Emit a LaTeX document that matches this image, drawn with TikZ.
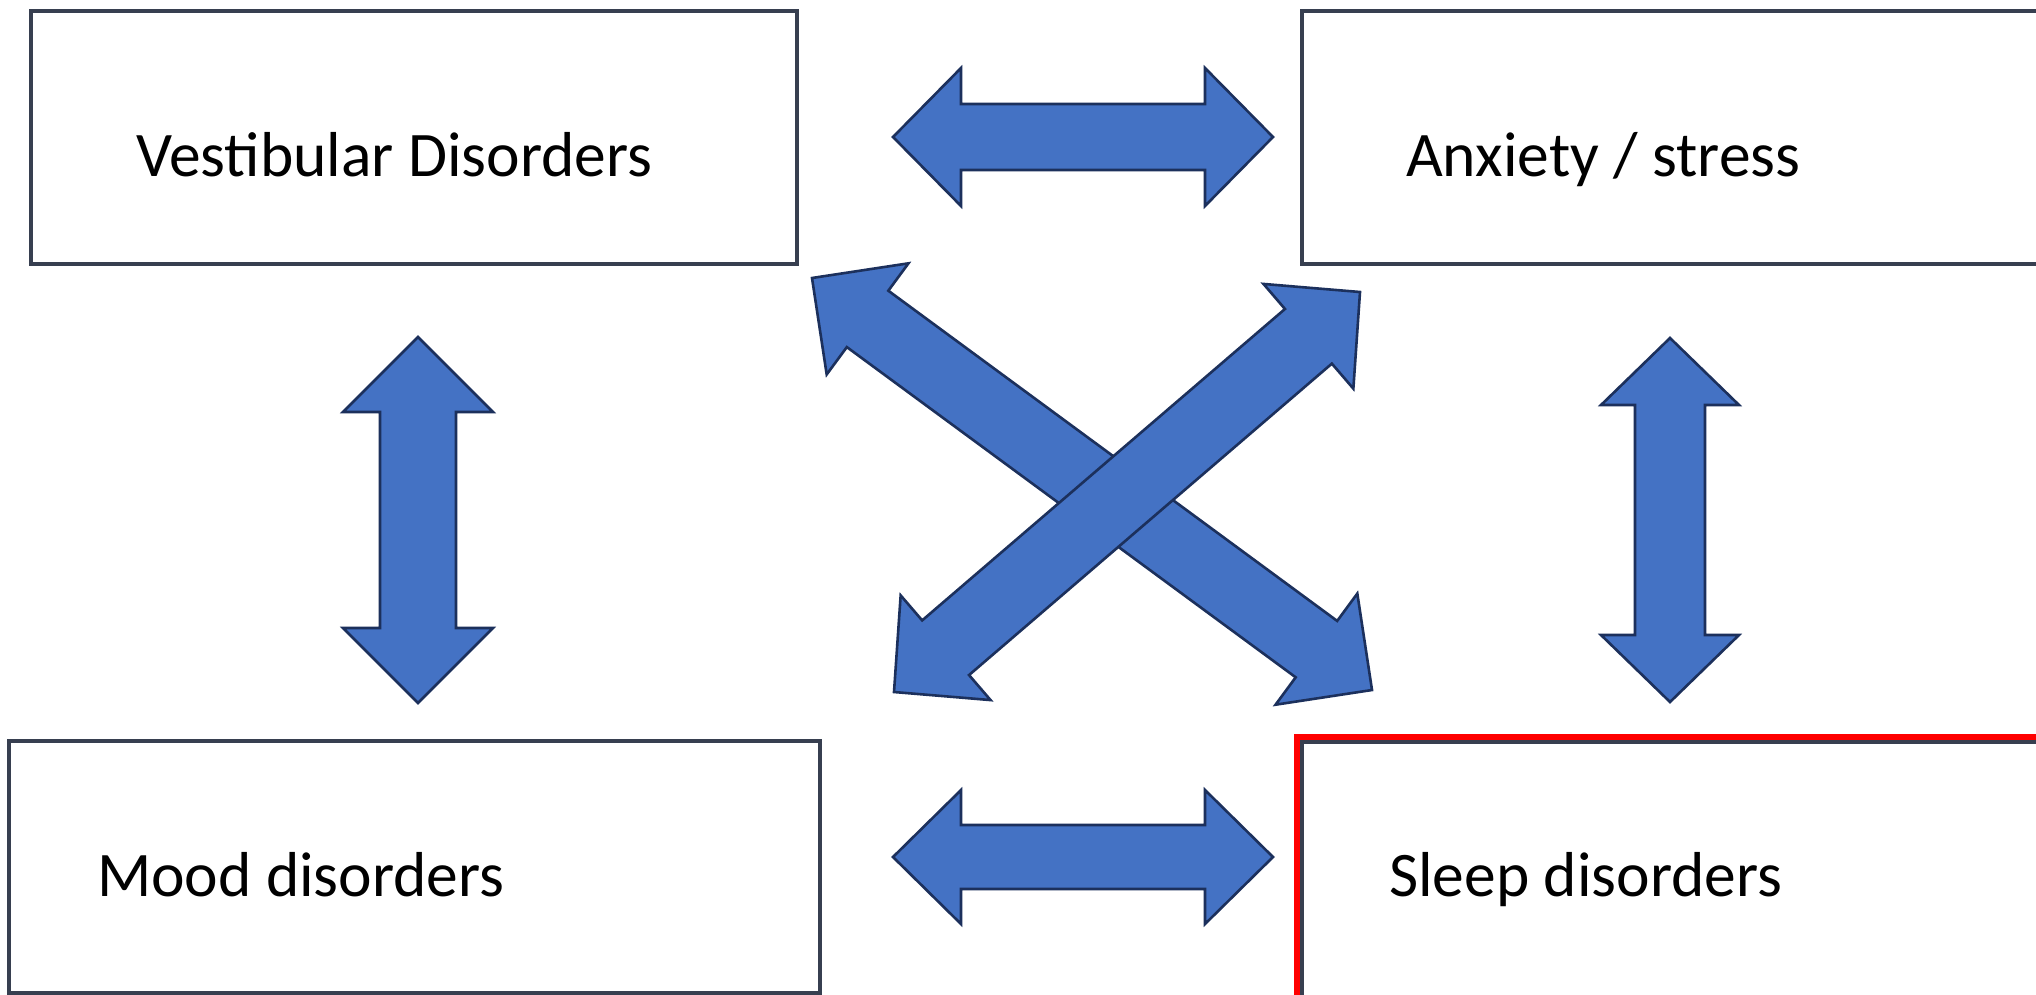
\documentclass[tikz,border=0pt]{standalone}
\usepackage{fontspec}
\setmainfont{Carlito}
\usetikzlibrary{calc}

\definecolor{boxedge}{RGB}{55,63,80}
\definecolor{arrowfill}{RGB}{68,114,196}
\definecolor{arrowedge}{RGB}{28,48,92}
\definecolor{markred}{RGB}{255,0,0}

\tikzset{
  panel/.style={draw=boxedge, line width=3.5pt, fill=white, inner sep=0pt, anchor=north west},
  boxtext/.style={anchor=base west, inner sep=0pt, font=\fontsize{63.5}{76}\selectfont, text=black},
  blockarrow/.style={fill=arrowfill, draw=arrowedge, line width=2.6pt, line join=miter},
}

% Double-headed block arrow between two named points.
% #1 start, #2 end, #3 head length, #4 head half-width, #5 shaft half-width (pt)
\newcommand\fatarrow[5]{%
  \draw[blockarrow]
    (#1)
    -- ($(#1)!#3pt!(#2)!#4pt!90:(#2)$)
    -- ($(#1)!#3pt!(#2)!#5pt!90:(#2)$)
    -- ($(#2)!#3pt!(#1)!#5pt!-90:(#1)$)
    -- ($(#2)!#3pt!(#1)!#4pt!-90:(#1)$)
    -- (#2)
    -- ($(#2)!#3pt!(#1)!#4pt!90:(#1)$)
    -- ($(#2)!#3pt!(#1)!#5pt!90:(#1)$)
    -- ($(#1)!#3pt!(#2)!#5pt!-90:(#2)$)
    -- ($(#1)!#3pt!(#2)!#4pt!-90:(#2)$)
    -- cycle;}

\begin{document}
\begin{tikzpicture}[x=1pt, y=-1pt]
  \useasboundingbox (0,0) rectangle (2036,994);
  \clip (0,0) rectangle (2036,994);
  \fill[white] (0,0) rectangle (2036,994);

  % boxes
  \node[panel, minimum width=766pt, minimum height=253pt] (vestbox) at (29,9) {};
  \node[panel, minimum width=760pt, minimum height=253pt] (anxbox) at (1300,9) {};
  \node[panel, minimum width=811pt, minimum height=252pt] (moodbox) at (7,739) {};
  \node[panel, minimum width=760pt, minimum height=260pt] (sleepbox) at (1300,740) {};
  \node[draw=markred, line width=6pt, inner sep=0pt, anchor=north west,
        minimum width=780pt, minimum height=280pt] (sleepmark) at (1294,734) {};

  % labels
  \node[boxtext] (vesttext) at (136,176) {Vestibular Disorders};
  \node[boxtext] (anxtext) at (1406,176) {Anxiety / stress};
  \node[boxtext] (moodtext) at (97,896) {Mood disorders};
  \node[boxtext] (sleeptext) at (1389,896) {Sleep disorders};

  % arrow end points
  \coordinate (top-l) at (893,137);
  \coordinate (top-r) at (1273,137);
  \coordinate (bot-l) at (893,857);
  \coordinate (bot-r) at (1273,857);
  \coordinate (lv-t) at (418,337);
  \coordinate (lv-b) at (418,703);
  \coordinate (rv-t) at (1670,338);
  \coordinate (rv-b) at (1670,702);
  \coordinate (d1-nw) at (812,278);
  \coordinate (d1-se) at (1372,690);
  \coordinate (d2-ne) at (1360,292);
  \coordinate (d2-sw) at (894,692);

  % arrows
  \fatarrow{top-l}{top-r}{68}{69}{33}
  \fatarrow{bot-l}{bot-r}{68}{67}{32}
  \fatarrow{lv-t}{lv-b}{75}{75}{38}
  \fatarrow{rv-t}{rv-b}{67}{69}{35}
  \fatarrow{d1-nw}{d1-se}{69}{69}{35}
  \fatarrow{d2-ne}{d2-sw}{68}{69}{36}
\end{tikzpicture}
\end{document}
